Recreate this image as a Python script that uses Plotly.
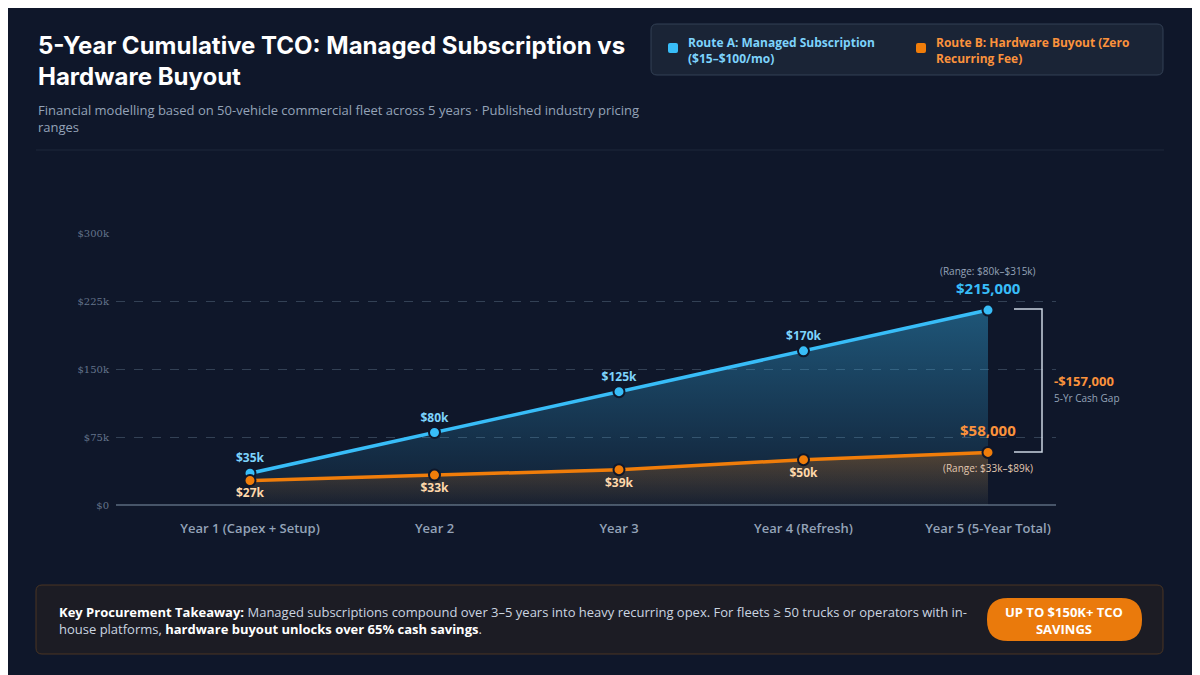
import plotly.graph_objects as go

categories = ["Year 1 (Capex + Setup)", "Year 2", "Year 3", "Year 4 (Refresh)", "Year 5 (5-Year Total)"]
route_a = [35000, 80000, 125000, 170000, 215000]
route_b = [27000, 33000, 39000, 50000, 58000]
labels_a = ["$35k", "$80k", "$125k", "$170k", ""]
labels_b = ["$27k", "$33k", "$39k", "$50k", ""]
y_ticks = [0, 75000, 150000, 225000, 300000]
y_ticktext = ["$0", "$75k", "$150k", "$225k", "$300k"]

BG = "#0f172a"
BLUE = "#38bdf8"
ORANGE = "#f07d0a"
OFF = 8  # browser body margin compensation
L, R, T, B = 116 - OFF, 1056 - OFF, 233 - OFF, 505 - OFF
def px(x): return (x - OFF - L) / (R - L)
def py(y): return (B - (y - OFF)) / (B - T)

xs = list(range(len(categories)))
fig = go.Figure()
fig.add_trace(go.Scatter(
    x=xs, y=route_a, mode="lines+markers+text", text=labels_a, textposition="top center",
    textfont=dict(color="#7dd3fc", size=12, family="Open Sans", weight="bold"),
    line=dict(color=BLUE, width=3.5), marker=dict(size=11, color=BLUE, line=dict(color=BG, width=2)),
    fill="tozeroy",
    fillgradient=dict(type="vertical", colorscale=[[0, "rgba(56,189,248,0.04)"], [1, "rgba(56,189,248,0.38)"]]),
    cliponaxis=False, showlegend=False, hoverinfo="skip"))
fig.add_trace(go.Scatter(
    x=xs, y=route_b, mode="lines+markers+text", text=labels_b, textposition="bottom center",
    textfont=dict(color="#fed7aa", size=12, family="Open Sans", weight="bold"),
    line=dict(color=ORANGE, width=3.5), marker=dict(size=11, color=ORANGE, line=dict(color=BG, width=2)),
    fill="tozeroy",
    fillgradient=dict(type="vertical", colorscale=[[0, "rgba(240,125,10,0.03)"], [1, "rgba(240,125,10,0.28)"]]),
    cliponaxis=False, showlegend=False, hoverinfo="skip"))

ann = []
def txt(x, y, s, size, color, xa="left", ya="middle", bold=False, fam="Open Sans", ref="data"):
    d = dict(x=x, y=y, text=s, showarrow=False, xanchor=xa, yanchor=ya, align=xa if xa != "center" else "center",
             font=dict(size=size, color=color, family=fam, weight="bold" if bold else "normal"))
    if ref == "px":
        d.update(x=px(x), y=py(y), xref="paper", yref="paper")
    ann.append(d)

txt(4, route_a[4], f"${route_a[4]:,}", 15, BLUE, "center", "bottom", True); ann[-1]["yshift"] = 10
txt(4, route_a[4], "(Range: $80k–$315k)", 10, "#94a3b8", "center", "bottom"); ann[-1]["yshift"] = 30
txt(4, route_b[4], f"${route_b[4]:,}", 15, "#fb923c", "center", "bottom", True); ann[-1]["yshift"] = 10
txt(4, route_b[4], "(Range: $33k–$89k)", 10, "#e2c8b0", "center", "top"); ann[-1]["yshift"] = -7
txt(1052, 381, f"-${route_a[4]-route_b[4]:,}", 13, "#fb923c", "left", "middle", True, ref="px")
txt(1052, 398, "5-Yr Cash Gap", 10, "#94a3b8", "left", "middle", ref="px")

txt(36, 61, "5-Year Cumulative TCO: Managed Subscription vs<br>Hardware Buyout", 24, "#ffffff", "left", "middle", True, "Inter", ref="px")
txt(36, 119, "Financial modelling based on 50-vehicle commercial fleet across 5 years · Published industry pricing<br>ranges", 13, "#94a3b8", "left", "middle", ref="px")
txt(686, 50, "Route A: Managed Subscription<br>($15–$100/mo)", 12, "#7dd3fc", "left", "middle", True, ref="px")
txt(934, 50, "Route B: Hardware Buyout (Zero<br>Recurring Fee)", 12, "#fb923c", "left", "middle", True, ref="px")
txt(57, 620, "<b style='color:#ffffff'>Key Procurement Takeaway:</b> Managed subscriptions compound over 3–5 years into heavy recurring opex. For fleets ≥ 50 trucks or operators with in-<br>house platforms, <b style='color:#ffffff'>hardware buyout unlocks over 65% cash savings</b>.", 13, "#cbd5e1", "left", "middle", ref="px")
txt(1064, 620, "UP TO $150K+ TCO<br>SAVINGS", 13, "#ffffff", "center", "middle", True, ref="px")

def rr(x0, y0, x1, y1, r):
    X0, X1 = px(x0), px(x1); Y0, Y1 = py(y0), py(y1)
    rx = r / (R - L); ry = r / (B - T)
    return (f"M{X0+rx},{Y0} L{X1-rx},{Y0} Q{X1},{Y0} {X1},{Y0-ry} L{X1},{Y1+ry} Q{X1},{Y1} {X1-rx},{Y1} "
            f"L{X0+rx},{Y1} Q{X0},{Y1} {X0},{Y1+ry} L{X0},{Y0-ry} Q{X0},{Y0} {X0+rx},{Y0} Z")

shapes = [
    dict(type="line", xref="paper", yref="paper", x0=px(36), x1=px(1164), y0=py(150), y1=py(150), line=dict(color="#1e293b", width=1)),
    dict(type="path", xref="paper", yref="paper", path=rr(651, 24, 1163, 75, 6), fillcolor="#1a2436", line=dict(color="#334155", width=1)),
    dict(type="path", xref="paper", yref="paper", path=rr(668, 43, 678, 53, 2), fillcolor=BLUE, line=dict(width=0)),
    dict(type="path", xref="paper", yref="paper", path=rr(916, 43, 926, 53, 2), fillcolor=ORANGE, line=dict(width=0)),
    dict(type="path", xref="paper", yref="paper", path=rr(36, 585, 1163, 654, 6), fillcolor="#1c1c24", line=dict(color="#4a3523", width=1)),
    dict(type="path", xref="paper", yref="paper", path=rr(987, 598, 1142, 641, 21), fillcolor="#ea7a0c", line=dict(width=0)),
    dict(type="path", xref="paper", yref="paper",
         path=f"M{px(1014)},{py(309)} L{px(1042)},{py(309)} L{px(1042)},{py(452)} L{px(1014)},{py(452)}",
         line=dict(color="#cbd5e1", width=1.5)),
]

fig.update_layout(
    width=1200, height=675, paper_bgcolor=BG, plot_bgcolor=BG,
    margin=dict(l=L, r=1200-R, t=T, b=675-B), annotations=ann, shapes=shapes,
    xaxis=dict(range=[-(250-116)/184.5, (1056-250)/184.5], tickvals=xs, ticktext=categories, showgrid=False,
               zeroline=False, showline=False, ticks="", ticklabelstandoff=14,
               tickfont=dict(color="#94a3b8", size=13, family="Open Sans", weight=600)),
    yaxis=dict(range=[0, 300000], tickvals=y_ticks, ticktext=y_ticktext, gridcolor="#334155", griddash="dash",
               zeroline=True, zerolinecolor="#475569", zerolinewidth=2, showline=False, ticks="",
               tickfont=dict(color="#64748b", size=10, family="DejaVu Serif"), ticklabelstandoff=6),
)
fig.write_html("out.html")
